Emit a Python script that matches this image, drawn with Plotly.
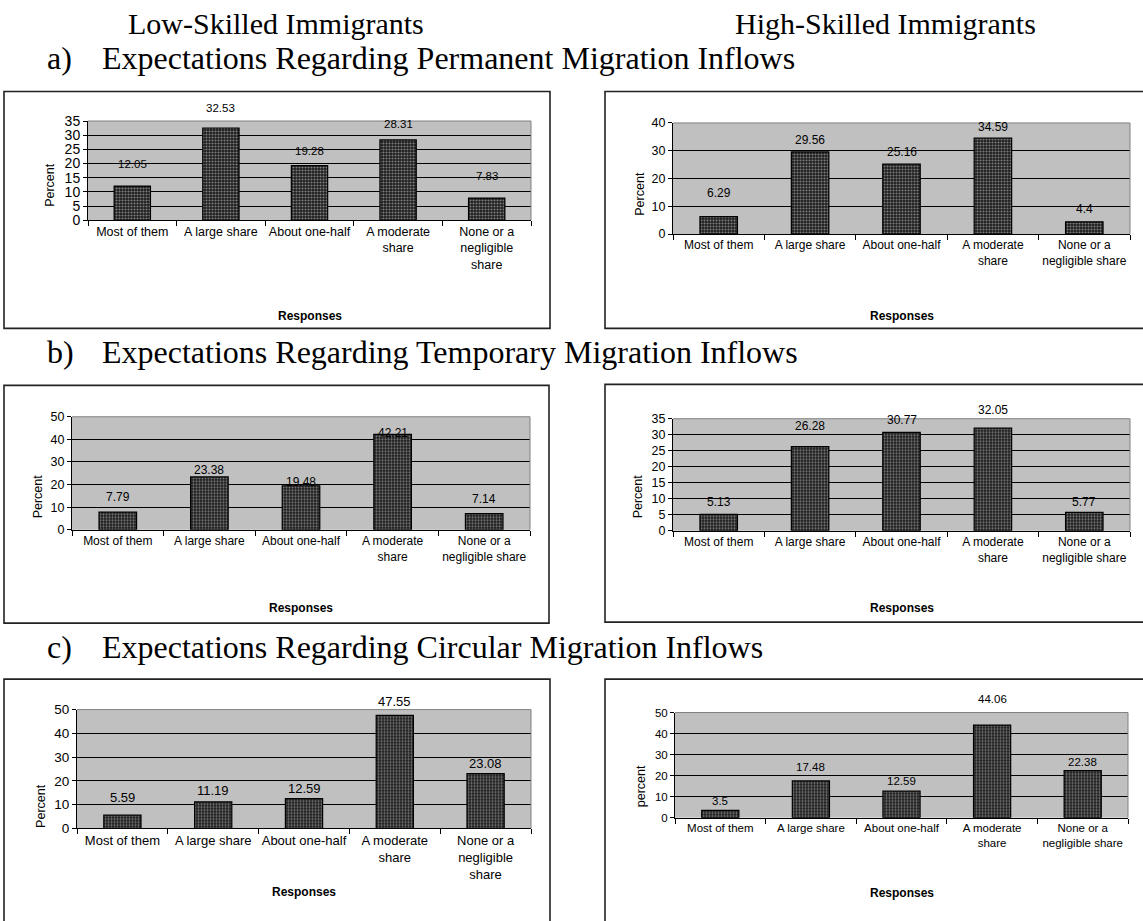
import plotly.graph_objects as go

W, H = 1143, 921

# ---------------- data ----------------
categories = ["Most of them", "A large share", "About one-half",
              "A moderate share", "None or a negligible share"]

perm_low = [12.05, 32.53, 19.28, 28.31, 7.83]
perm_high = [6.29, 29.56, 25.16, 34.59, 4.4]
temp_low = [7.79, 23.38, 19.48, 42.21, 7.14]
temp_high = [5.13, 26.28, 30.77, 32.05, 5.77]
circ_low = [5.59, 11.19, 12.59, 47.55, 23.08]
circ_high = [3.5, 17.48, 12.59, 44.06, 22.38]

ticks_3line = ["Most of them", "A large share", "About one-half",
               "A moderate<br>share", "None or a<br>negligible<br>share"]
ticks_2line = ["Most of them", "A large share", "About one-half",
               "A moderate<br>share", "None or a<br>negligible share"]

header_left = "Low-Skilled Immigrants"
header_right = "High-Skilled Immigrants"
section_letters = ["a)", "b)", "c)"]
section_titles = ["Expectations Regarding Permanent Migration Inflows",
                  "Expectations Regarding Temporary Migration Inflows",
                  "Expectations Regarding Circular Migration Inflows"]

# ---------------- panel styling / layout (pixels) ----------------
panels = [
    dict(vals=perm_low, ticks=ticks_3line, ymax=35, dtick=5, ytitle="Percent",
         plot=(88, 531, 115, 216), box=(4, 550, 85, 326),
         ytitle_pos=(50, 180), resp_y=313, tfs=12.5, yfs=14, lfs=11.5,
         lift=[22, 20, 15, 16, 22]),
    dict(vals=perm_high, ticks=ticks_2line, ymax=40, dtick=10, ytitle="Percent",
         plot=(673, 1130, 117, 230), box=(605, 1152, 85, 326),
         ytitle_pos=(640, 189), resp_y=313, tfs=12, yfs=12.5, lfs=12,
         lift=[24, 12, 12, 11, 13]),
    dict(vals=temp_low, ticks=ticks_2line, ymax=50, dtick=10, ytitle="Percent",
         plot=(72, 530, 416, 531), box=(4, 549, 384, 626),
         ytitle_pos=(38, 497), resp_y=611, tfs=12, yfs=12.5, lfs=12,
         lift=[15, 7, 4, 1, 15]),
    dict(vals=temp_high, ticks=ticks_2line, ymax=35, dtick=5, ytitle="Percent",
         plot=(673, 1130, 418, 532), box=(605, 1152, 383, 625),
         ytitle_pos=(638, 497), resp_y=611, tfs=12, yfs=12.5, lfs=12,
         lift=[12, 21, 12, 18, 10]),
    dict(vals=circ_low, ticks=ticks_3line, ymax=50, dtick=10, ytitle="Percent",
         plot=(77, 531, 714, 835), box=(4, 550, 683, 930),
         ytitle_pos=(41, 812), resp_y=900, tfs=13, yfs=13.5, lfs=13,
         lift=[18, 11, 10, 14, 10]),
    dict(vals=circ_high, ticks=ticks_2line, ymax=50, dtick=10, ytitle="percent",
         plot=(675, 1128, 717, 824), box=(605, 1152, 683, 930),
         ytitle_pos=(641, 792), resp_y=901, tfs=11.5, yfs=11.5, lfs=11.5,
         lift=[9, 14, 10, 26, 9]),
]

SANS = "Liberation Sans, Arial, sans-serif"
SERIF = "Liberation Serif, Times New Roman, serif"


def px_x(v):
    return v / W


def px_y(v):
    return 1 - v / H


fig = go.Figure()
layout = dict(
    width=W, height=H, autosize=False,
    margin=dict(l=0, r=0, t=0, b=0),
    paper_bgcolor="white", plot_bgcolor="#c0c0c0",
    showlegend=False,
    font=dict(family=SANS, color="black"),
)
shapes = []
annotations = []

for i, p in enumerate(panels, start=1):
    xs = "" if i == 1 else str(i)
    x0, x1, y0, y1 = p["plot"]
    fig.add_trace(go.Bar(
        x=categories, y=p["vals"], xaxis="x" + xs, yaxis="y" + xs,
        width=0.41,
        marker=dict(color="#1c1c1c",
                    line=dict(color="black", width=1.2),
                    pattern=dict(shape=".", fgcolor="#e4e4e4", bgcolor="#1c1c1c",
                                 size=3, solidity=0.4)),
        hoverinfo="x+y",
    ))
    layout["xaxis" + xs] = dict(
        domain=[px_x(x0), px_x(x1)], anchor="y" + xs, type="category",
        range=[-0.5, 4.5], tickmode="array", tickvals=categories,
        ticktext=p["ticks"], tickson="boundaries", ticks="outside", ticklen=5,
        tickcolor="black", showline=True, linecolor="black", linewidth=1,
        showgrid=False, tickangle=0, tickfont=dict(family=SANS, size=p["tfs"]),
        fixedrange=True,
    )
    layout["yaxis" + xs] = dict(
        domain=[px_y(y1), px_y(y0)], anchor="x" + xs, range=[0, p["ymax"]],
        dtick=p["dtick"], tick0=0, ticks="outside", ticklen=4, tickcolor="black",
        showline=True, linecolor="black", linewidth=1, showgrid=True,
        gridcolor="black", gridwidth=1, zeroline=False,
        tickfont=dict(family=SANS, size=p["yfs"]), fixedrange=True,
    )
    # plot-area gray border (top and right)
    for (ax0, ay0, ax1, ay1) in [(0, 1, 1, 1), (1, 0, 1, 1)]:
        shapes.append(dict(type="line", xref="x" + xs + " domain",
                           yref="y" + xs + " domain", x0=ax0, y0=ay0, x1=ax1, y1=ay1,
                           line=dict(color="#808080", width=1)))
    # outer chart box
    bx0, bx1, by0, by1 = p["box"]
    shapes.append(dict(type="rect", xref="paper", yref="paper",
                       x0=px_x(bx0), x1=px_x(bx1), y0=px_y(by1), y1=px_y(by0),
                       line=dict(color="#222222", width=1.6), fillcolor="rgba(0,0,0,0)"))
    # data labels
    for c, v, lift in zip(categories, p["vals"], p["lift"]):
        annotations.append(dict(x=c, y=v, xref="x" + xs, yref="y" + xs,
                                text=f"{v:g}", showarrow=False, yanchor="middle",
                                yshift=lift, font=dict(family=SANS, size=p["lfs"], color="black")))
    # axis titles
    tx, ty = p["ytitle_pos"]
    annotations.append(dict(x=px_x(tx), y=px_y(ty), xref="paper", yref="paper",
                            text=p["ytitle"], textangle=-90, showarrow=False,
                            xanchor="center", yanchor="middle",
                            font=dict(family=SANS, size=12.5)))
    annotations.append(dict(x=px_x((x0 + x1) / 2), y=px_y(p["resp_y"]), xref="paper",
                            yref="paper", text="<b>Responses</b>", showarrow=False,
                            xanchor="center", yanchor="middle",
                            font=dict(family=SANS, size=12)))

# headers
annotations.append(dict(x=px_x(126), y=px_y(16), xref="paper", yref="paper",
                        text=header_left, showarrow=False, xanchor="left",
                        yanchor="middle", font=dict(family=SERIF, size=30)))
annotations.append(dict(x=px_x(733), y=px_y(16), xref="paper", yref="paper",
                        text=header_right, showarrow=False, xanchor="left",
                        yanchor="middle", font=dict(family=SERIF, size=30)))
for letter, title, cy in zip(section_letters, section_titles, [51, 350, 650]):
    annotations.append(dict(x=px_x(45), y=px_y(cy), xref="paper", yref="paper",
                            text=letter, showarrow=False, xanchor="left",
                            yanchor="middle", font=dict(family=SERIF, size=32)))
    annotations.append(dict(x=px_x(100), y=px_y(cy), xref="paper", yref="paper",
                            text=title, showarrow=False, xanchor="left",
                            yanchor="middle", font=dict(family=SERIF, size=32)))

layout["shapes"] = shapes
layout["annotations"] = annotations
fig.update_layout(**layout)
fig.write_html("out.html",
               config={"displayModeBar": False},
               post_script="document.body.style.margin='0px';"
                           "document.body.style.overflow='hidden';")
